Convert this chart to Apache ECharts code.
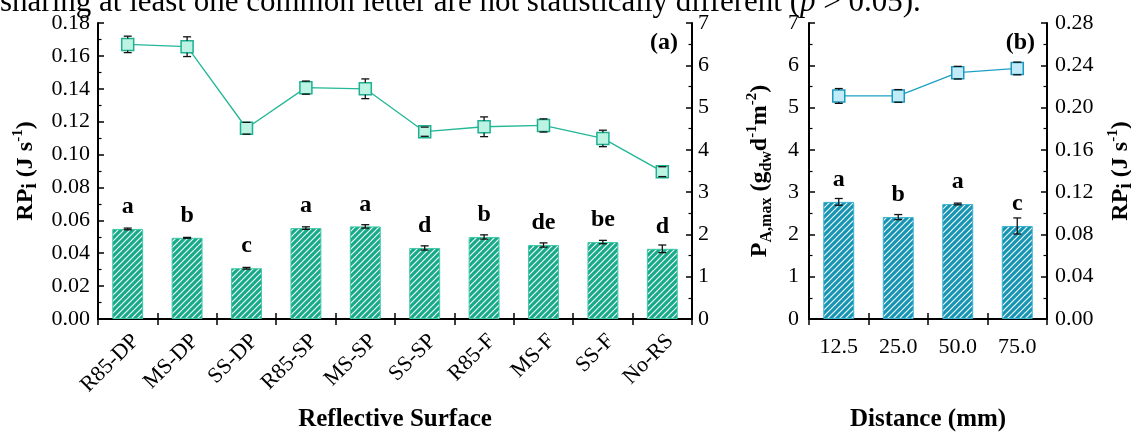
<!DOCTYPE html>
<html>
<head>
<meta charset="utf-8">
<script src="https://cdn.jsdelivr.net/npm/echarts@6/dist/echarts.min.js"></script>
<style>
  html, body { margin: 0; padding: 0; background: #fff; }
  #chart { width: 1131px; height: 432px; }
</style>
</head>
<body>
<div id="chart"></div>
<script>
// ---- Panel (a): reflective surfaces ----
const surfaces = ['R85-DP', 'MS-DP', 'SS-DP', 'R85-SP', 'MS-SP', 'SS-SP', 'R85-F', 'MS-F', 'SS-F', 'No-RS'];
const surfaceProd = [2.13, 1.92, 1.20, 2.15, 2.19, 1.68, 1.94, 1.75, 1.82, 1.66];
const surfaceProdErr = [0.02, 0.01, 0.02, 0.03, 0.04, 0.05, 0.05, 0.05, 0.04, 0.09];
const surfaceLetters = ['a', 'b', 'c', 'a', 'a', 'd', 'b', 'de', 'be', 'd'];
const surfaceRP = [0.167, 0.1656, 0.116, 0.1407, 0.140, 0.1139, 0.1169, 0.1177, 0.1098, 0.0896];
const surfaceRPErr = [0.005, 0.006, 0.0036, 0.004, 0.006, 0.0028, 0.006, 0.004, 0.005, 0.003];

// ---- Panel (b): distance ----
const distances = ['12.5', '25.0', '50.0', '75.0'];
const distanceProd = [2.77, 2.41, 2.72, 2.20];
const distanceProdErr = [0.08, 0.06, 0.02, 0.19];
const distanceLetters = ['a', 'b', 'a', 'c'];
const distanceRP = [0.211, 0.211, 0.233, 0.237];
const distanceRPErr = [0.007, 0.006, 0.006, 0.006];

const SERIF = 'Liberation Serif';

function hatch(base) {
  const c = document.createElement('canvas');
  c.width = 6; c.height = 6;
  const g = c.getContext('2d');
  g.fillStyle = base;
  g.fillRect(0, 0, 6, 6);
  g.strokeStyle = 'rgba(255,255,255,0.95)';
  g.lineWidth = 1.2;
  g.beginPath();
  g.moveTo(-1, 7); g.lineTo(7, -1);
  g.moveTo(-1, 1); g.lineTo(1, -1);
  g.moveTo(5, 7); g.lineTo(7, 5);
  g.stroke();
  return { image: c, repeat: 'repeat' };
}

const nameRich = {
  b: { fontFamily: SERIF, fontWeight: 'bold', fontSize: 24, color: '#000', lineHeight: 30 },
  sub: { fontFamily: SERIF, fontWeight: 'bold', fontSize: 16, color: '#000', verticalAlign: 'bottom', lineHeight: 16 },
  subi: { fontFamily: SERIF, fontWeight: 'bold', fontSize: 20, color: '#000', verticalAlign: 'bottom', lineHeight: 20 },
  sup: { fontFamily: SERIF, fontWeight: 'bold', fontSize: 15, color: '#000', verticalAlign: 'top', lineHeight: 15 }
};
const RP_NAME = '{b|RP}{subi|i}{b| (J s}{sup|-1}{b|)}';
const PA_NAME = '{b|P}{sub|A,max}{b| (g}{sub|dw}{b|d}{sup|-1}{b|m}{sup|-2}{b|)}';

const axisLineStyle = { color: '#000', width: 2 };
const titleFont = { fontFamily: SERIF, fontWeight: 'bold', fontSize: 25, color: '#000' };

function catAxis(gridIndex, data, opts) {
  return Object.assign({
    type: 'category', gridIndex, data,
    boundaryGap: true,
    axisLine: { show: true, lineStyle: axisLineStyle },
    axisTick: { show: true, inside: true, length: 6, lineStyle: { color: '#000', width: 1.5 } },
    splitLine: { show: false }
  }, opts);
}

function valAxis(gridIndex, position, min, max, interval, digits, margin, extra) {
  return Object.assign({
    type: 'value', gridIndex, position, min, max, interval,
    axisLine: { show: true, lineStyle: axisLineStyle },
    axisTick: { show: true, inside: true, length: 6, lineStyle: { color: '#000', width: 1.5 } },
    minorTick: { show: true, splitNumber: 2, length: 3.5, lineStyle: { color: '#000', width: 1.2 } },
    splitLine: { show: false },
    axisLabel: {
      fontFamily: SERIF, fontSize: 22, color: '#000', margin,
      formatter: v => v.toFixed(digits)
    }
  }, extra || {});
}

// Vertical error bars with caps; for point markers the stem stops at the marker edge.
function errorBars(markerHalf) {
  return function (params, api) {
    const i = api.value(0), v = api.value(1), e = api.value(2);
    const c = api.coord([i, v]);
    const hi = api.coord([i, v + e]);
    const lo = api.coord([i, v - e]);
    const hw = 4;
    const st = { stroke: '#111', lineWidth: 1.3 };
    const ch = [
      { type: 'line', shape: { x1: hi[0] - hw, y1: hi[1], x2: hi[0] + hw, y2: hi[1] }, style: st },
      { type: 'line', shape: { x1: lo[0] - hw, y1: lo[1], x2: lo[0] + hw, y2: lo[1] }, style: st }
    ];
    if (markerHalf > 0) {
      if (hi[1] < c[1] - markerHalf) ch.push({ type: 'line', shape: { x1: c[0], y1: hi[1], x2: c[0], y2: c[1] - markerHalf }, style: st });
      if (lo[1] > c[1] + markerHalf) ch.push({ type: 'line', shape: { x1: c[0], y1: c[1] + markerHalf, x2: c[0], y2: lo[1] }, style: st });
    } else {
      ch.push({ type: 'line', shape: { x1: hi[0], y1: hi[1], x2: lo[0], y2: lo[1] }, style: st });
    }
    return { type: 'group', children: ch };
  };
}

const withErr = (vals, errs) => vals.map((v, i) => [i, v, errs[i]]);

const letterLabel = letters => ({
  show: true, position: 'top', distance: 10,
  fontFamily: SERIF, fontWeight: 'bold', fontSize: 24, color: '#000',
  formatter: p => letters[p.dataIndex]
});

const chart = echarts.init(document.getElementById('chart'), null, { renderer: 'canvas' });

chart.setOption({
  animation: false,
  backgroundColor: '#fff',
  grid: [
    { left: 98, right: 439, top: 23, bottom: 113, outerBoundsMode: 'none', containLabel: false },
    { left: 809, right: 84, top: 23, bottom: 113, outerBoundsMode: 'none', containLabel: false }
  ],
  xAxis: [
    catAxis(0, surfaces, {
      position: 'bottom',
      axisLabel: { fontFamily: SERIF, fontSize: 22, color: '#000', rotate: 45, margin: 11, interval: 0, verticalAlign: 'top' },
      name: 'Reflective Surface', nameLocation: 'middle', nameGap: 88,
      nameTextStyle: titleFont
    }),
    catAxis(0, surfaces, { position: 'top', axisLabel: { show: false } }),
    catAxis(1, distances, {
      position: 'bottom',
      axisLabel: { fontFamily: SERIF, fontSize: 22, color: '#000', margin: 17, interval: 0 },
      name: 'Distance (mm)', nameLocation: 'middle', nameGap: 88,
      nameTextStyle: titleFont
    }),
    catAxis(1, distances, { position: 'top', axisLabel: { show: false } })
  ],
  yAxis: [
    valAxis(0, 'left', 0, 0.18, 0.02, 2, 8, {
      name: RP_NAME, nameLocation: 'middle', nameRotate: 90, nameGap: 56,
      nameTextStyle: { rich: nameRich }
    }),
    valAxis(0, 'right', 0, 7, 1, 0, 6),
    valAxis(1, 'left', 0, 7, 1, 0, 10, {
      name: PA_NAME, nameLocation: 'middle', nameRotate: 90, nameGap: 34,
      nameTextStyle: { rich: nameRich }
    }),
    valAxis(1, 'right', 0, 0.28, 0.04, 2, 8, {
      name: RP_NAME, nameLocation: 'middle', nameRotate: 90, nameGap: 59,
      nameTextStyle: { rich: nameRich }
    })
  ],
  series: [
    {
      type: 'bar', xAxisIndex: 0, yAxisIndex: 1, data: surfaceProd, barWidth: '52%',
      itemStyle: { color: hatch('#17aa89'), borderColor: '#3fc9a7', borderWidth: 1 },
      label: letterLabel(surfaceLetters), z: 2
    },
    {
      type: 'custom', xAxisIndex: 0, yAxisIndex: 1, data: withErr(surfaceProd, surfaceProdErr),
      renderItem: errorBars(0), z: 4, silent: true
    },
    {
      type: 'line', xAxisIndex: 0, yAxisIndex: 0, data: surfaceRP,
      symbol: 'rect', symbolSize: 12,
      lineStyle: { color: '#22b796', width: 1.3 },
      itemStyle: { color: '#bdf3e2', borderColor: '#1fb092', borderWidth: 1.5 },
      z: 5
    },
    {
      type: 'custom', xAxisIndex: 0, yAxisIndex: 0, data: withErr(surfaceRP, surfaceRPErr),
      renderItem: errorBars(6), z: 6, silent: true
    },
    {
      type: 'bar', xAxisIndex: 2, yAxisIndex: 2, data: distanceProd, barWidth: '52%',
      itemStyle: { color: hatch('#1694b4'), borderColor: '#3db3d0', borderWidth: 1 },
      label: letterLabel(distanceLetters), z: 2
    },
    {
      type: 'custom', xAxisIndex: 2, yAxisIndex: 2, data: withErr(distanceProd, distanceProdErr),
      renderItem: errorBars(0), z: 4, silent: true
    },
    {
      type: 'line', xAxisIndex: 2, yAxisIndex: 3, data: distanceRP,
      symbol: 'rect', symbolSize: 12,
      lineStyle: { color: '#1fa0c6', width: 1.3 },
      itemStyle: { color: '#c2ebfa', borderColor: '#1a9ac0', borderWidth: 1.5 },
      z: 5
    },
    {
      type: 'custom', xAxisIndex: 2, yAxisIndex: 3, data: withErr(distanceRP, distanceRPErr),
      renderItem: errorBars(6), z: 6, silent: true
    }
  ],
  graphic: [
    {
      type: 'text', left: 0, top: -13, silent: true,
      style: {
        text: '{t|sharing at least one common letter are not statistically different (}{i|p}{t| > 0.05).}',
        rich: {
          t: { fontFamily: SERIF, fontSize: 31, fill: '#000' },
          i: { fontFamily: SERIF, fontSize: 31, fontStyle: 'italic', fill: '#000' }
        }
      }
    },
    {
      type: 'text', right: 1131 - 678, top: 31, silent: true,
      style: { text: '(a)', font: 'bold 24px "Liberation Serif"', fill: '#000' }
    },
    {
      type: 'text', right: 1131 - 1035, top: 31, silent: true,
      style: { text: '(b)', font: 'bold 24px "Liberation Serif"', fill: '#000' }
    }
  ]
});
</script>
</body>
</html>
